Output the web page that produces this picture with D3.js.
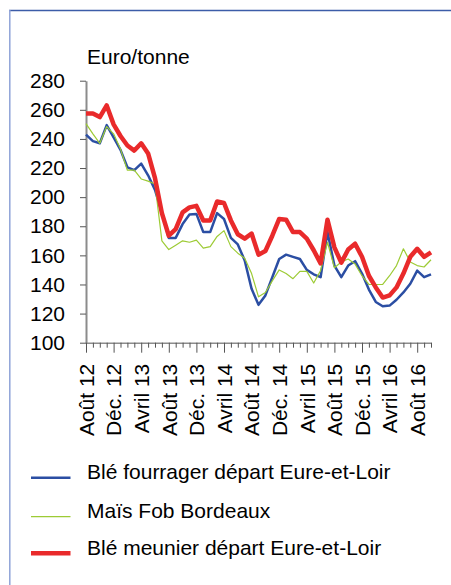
<!DOCTYPE html>
<html>

<head>
    <meta charset="utf-8">
    <title>Prix des céréales</title>
    <script src="https://d3js.org/d3.v7.min.js"></script>
    <style>
        body { margin: 0; background: #fff; }
        text { font-family: "Liberation Sans", Arial, sans-serif; fill: #000; }
    </style>
</head>

<body>

    <svg width="451" height="585" id="mainSvg"></svg>
    <script>
        // monthly categories, Août 2012 -> Octobre 2016
        const months = [
            "2012-08", "2012-09", "2012-10", "2012-11", "2012-12",
            "2013-01", "2013-02", "2013-03", "2013-04", "2013-05", "2013-06", "2013-07", "2013-08", "2013-09", "2013-10", "2013-11", "2013-12",
            "2014-01", "2014-02", "2014-03", "2014-04", "2014-05", "2014-06", "2014-07", "2014-08", "2014-09", "2014-10", "2014-11", "2014-12",
            "2015-01", "2015-02", "2015-03", "2015-04", "2015-05", "2015-06", "2015-07", "2015-08", "2015-09", "2015-10", "2015-11", "2015-12",
            "2016-01", "2016-02", "2016-03", "2016-04", "2016-05", "2016-06", "2016-07", "2016-08", "2016-09", "2016-10"
        ];
        // labelled months and their text
        const tickMonths = ["2012-08", "2012-12", "2013-04", "2013-08", "2013-12", "2014-04", "2014-08",
            "2014-12", "2015-04", "2015-08", "2015-12", "2016-04", "2016-08"];
        const tickLabels = ["Août 12", "Déc. 12", "Avril 13", "Août 13", "Déc. 13", "Avril 14", "Août 14",
            "Déc. 14", "Avril 15", "Août 15", "Déc. 15", "Avril 16", "Août 16"];
        const yTicks = [100, 120, 140, 160, 180, 200, 220, 240, 260, 280];

        const bleFourrager = [243, 238.5, 237, 249.5, 241, 232.5, 220.5, 218.5, 223, 215, 205, 189, 172, 172, 181.5, 188, 188.5,
            176, 176, 189, 185, 172, 167.5, 156.5, 137, 126, 132.5, 145, 157.5, 160.5, 159, 157.5, 150, 147, 145, 176, 153, 145,
            153, 156, 147.5, 136.5, 128, 125, 125.5, 129.5, 134.5, 140.5, 149.5, 145, 147];
        const maisFob = [250.5, 243.5, 237, 248.5, 243.5, 233, 218.5, 218.5, 212.5, 211, 209, 170, 164, 167, 170, 169, 170.5,
            165, 166, 173, 177, 166, 161.5, 158, 147.5, 131.5, 134.5, 142.5, 150, 147.5, 144, 149, 149, 141, 149.5, 169, 151.5,
            155.5, 157.5, 154, 146, 140, 140, 140, 146, 153, 164.5, 155.5, 153, 152, 157];
        const bleMeunier = [257.5, 257.5, 255, 263, 250, 242, 235.5, 232, 237, 230, 213, 189, 173.5, 178, 189.5, 193, 194,
            184, 184, 197, 196, 184, 174.5, 171.5, 175, 160.5, 163, 173.5, 185, 184.5, 176, 176, 171.5, 163.5, 154.5, 184.5,
            165.5, 155, 164, 168, 159, 146, 138, 131, 132.5, 138, 147.5, 159, 164.5, 159, 162];

        const seriesNames = ["Blé fourrager départ Eure-et-Loir", "Maïs Fob Bordeaux", "Blé meunier départ Eure-et-Loir"];
        const seriesValues = [bleFourrager, maisFob, bleMeunier];
        const seriesColors = ["#2b4ea3", "#9dcb35", "#e92a2b"];
        const seriesWidths = [2.5, 1.2, 4.5];

        const mainSvg = d3.select("#mainSvg");
        const margin = { top: 80.7, right: 20, bottom: 242.3, left: 86 };
        const plotRight = 431;
        const plotBottom = 342.7;

        // frame
        mainSvg.append("line").attr("x1", 9).attr("x2", 451).attr("y1", 10.5).attr("y2", 10.5)
            .attr("stroke", "#3c5ca8").attr("stroke-width", 1.5);
        mainSvg.append("line").attr("x1", 9.8).attr("x2", 9.8).attr("y1", 10).attr("y2", 585)
            .attr("stroke", "#8fa3d8").attr("stroke-width", 1.5);

        const x = d3.scalePoint().domain(months).range([margin.left, plotRight]);
        const y = d3.scaleLinear().domain([100, 280]).range([plotBottom, margin.top]);

        // y axis
        const yAxis = mainSvg.append("g")
            .attr("transform", `translate(${margin.left},0)`)
            .call(d3.axisLeft(y).tickValues(yTicks).tickSize(6).tickPadding(15).tickSizeOuter(0));
        yAxis.select(".domain").attr("stroke", "#8c8c8c").attr("stroke-width", 2);
        yAxis.selectAll(".tick line").attr("stroke", "#555").attr("stroke-width", 1);
        yAxis.selectAll(".tick text").attr("font-size", 21).attr("fill", "#000");

        // x axis
        const xAxis = mainSvg.append("g")
            .attr("transform", `translate(0,${plotBottom})`)
            .call(d3.axisBottom(x).tickSize(5).tickSizeOuter(0));
        xAxis.select(".domain").attr("stroke", "#8c8c8c").attr("stroke-width", 1.5);
        xAxis.selectAll(".tick line")
            .attr("stroke", "#555").attr("stroke-width", 1)
            .attr("y2", d => tickMonths.includes(d) ? 10 : 5);
        xAxis.selectAll(".tick text")
            .text(d => tickMonths.includes(d) ? tickLabels[tickMonths.indexOf(d)] : "")
            .attr("font-size", 21).attr("fill", "#000")
            .attr("text-anchor", "end")
            .attr("transform", "rotate(-90)")
            .attr("x", -21).attr("y", 0).attr("dy", "0.35em");

        // unit
        mainSvg.append("text").attr("x", 87).attr("y", 64).attr("font-size", 21).text("Euro/tonne");

        // lines
        const line = d3.line().x((d, i) => x(months[i])).y(d => y(d));
        mainSvg.selectAll(".serie").data(seriesValues).join("path")
            .attr("class", "serie")
            .attr("fill", "none")
            .attr("stroke", (d, i) => seriesColors[i])
            .attr("stroke-width", (d, i) => seriesWidths[i])
            .attr("stroke-linejoin", "round")
            .attr("d", d => line(d));

        // legend
        const legendY = [477.7, 516.7, 553.3];
        const legend = mainSvg.selectAll(".legendItem").data(seriesNames).join("g")
            .attr("class", "legendItem")
            .attr("transform", (d, i) => `translate(0,${legendY[i]})`);
        legend.append("line")
            .attr("x1", 31).attr("x2", 70.5).attr("y1", 0).attr("y2", 0)
            .attr("stroke", (d, i) => seriesColors[i])
            .attr("stroke-width", (d, i) => seriesWidths[i]);
        legend.append("text")
            .attr("x", 87).attr("y", 1.5)
            .attr("font-size", 21)
            .text(d => d);
    </script>
</body>

</html>
